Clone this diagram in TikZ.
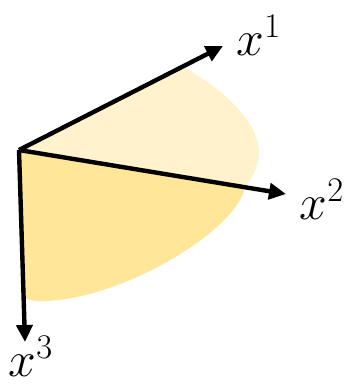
\documentclass[tikz,border=0pt]{standalone}
\usepackage{amsmath,amssymb}
\usetikzlibrary{arrows.meta}

\definecolor{paleyellow}{HTML}{FFF2CC}
\definecolor{warmyellow}{HTML}{FFE699}

\begin{document}
\begin{tikzpicture}[
  x=0.5pt, y=-0.5pt,
  font=\fontsize{26}{30}\selectfont,
  axis/.style={-{Triangle[length=8.5pt, width=8pt]}, line width=2.2pt, black},
  lbl/.style={inner sep=0pt}
]
\useasboundingbox (0,0) rectangle (345,387);
\coordinate (O)  at (19,150);
\coordinate (e1) at (223,46);
\coordinate (e2) at (286,194);
\coordinate (e3) at (25,342);
% shaded sectors
\fill[paleyellow] (O) -- (185,68) .. controls (228,92) and (259,125) .. (259,152)
  .. controls (259,167) and (252,178) .. (245,187) -- cycle;
\fill[warmyellow] (O) -- (245,187) .. controls (238,228) and (130,296) .. (48,301)
  .. controls (36,302) and (28,300) .. (23,297) -- cycle;
% axes
\draw[axis] (O) -- (e1);
\draw[axis] (O) -- (e2);
\draw[axis] (O) -- (e3);
\node[lbl] (l1) at (259,35)  {$x^1$};
\node[lbl] (l2) at (322,199) {$x^2$};
\node[lbl] (l3) at (31,356)  {$x^3$};
\end{tikzpicture}
\end{document}
